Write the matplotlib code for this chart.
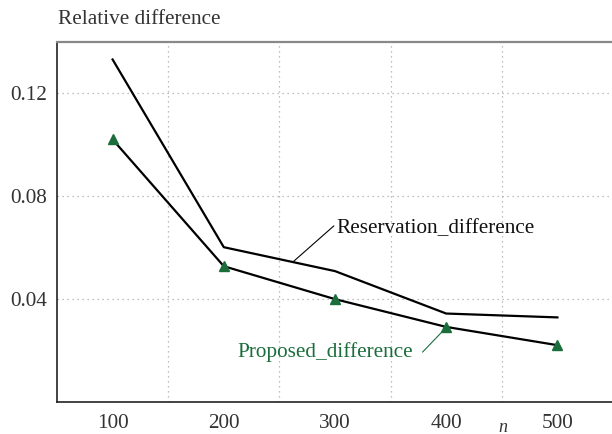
import matplotlib
matplotlib.use("Agg")
import matplotlib.pyplot as plt

n_values = [100, 200, 300, 400, 500]
reservation = [0.1332, 0.0602, 0.0509, 0.0344, 0.0329]
proposed = [0.1021, 0.0528, 0.0400, 0.0292, 0.0221]
yticks = [0.04, 0.08, 0.12]
ytick_labels = ["0.04", "0.08", "0.12"]

plt.rcParams['font.family'] = ['Liberation Serif', 'DejaVu Serif']
green = "#1b6e3c"
textc = "#333333"
fs = 15.3

fig = plt.figure(figsize=(6.12, 4.34), dpi=100)
ax = fig.add_axes([57/612, 32/434, 556/612, 360/434])
ax.set_xlim(50, 550)
ax.set_ylim(0, 0.14)

ax.plot(n_values, reservation, color="black", lw=1.6, zorder=3)
ax.plot(n_values, proposed, color="black", lw=1.6, zorder=3)
ax.plot(n_values, proposed, ls="none", marker="^", ms=6.5, color=green, zorder=4)

ax.set_xticks(n_values)
ax.set_xticklabels([str(v) for v in n_values])
ax.set_yticks(yticks)
ax.set_yticklabels(ytick_labels)
ax.set_xticks([150, 250, 350, 450], minor=True)
ax.tick_params(axis="both", which="both", length=0, labelsize=fs, colors=textc)
ax.tick_params(axis="x", pad=9)
ax.tick_params(axis="y", pad=7)
ax.grid(False)
ax.yaxis.grid(True, which="major", ls=(0, (1, 3)), color="#aaaaaa", lw=0.9)
ax.xaxis.grid(True, which="minor", ls=(0, (1, 3)), color="#aaaaaa", lw=0.9)

for s in ["left", "bottom"]:
    ax.spines[s].set_color("#222222")
    ax.spines[s].set_linewidth(1.2)
ax.spines["top"].set_color("#888888")
ax.spines["top"].set_linewidth(1.6)
ax.spines["right"].set_visible(False)

fig.text(58/612, 1 - 20/434, "Relative difference", fontsize=fs, color=textc, va="center", ha="left")
fig.text(503/612, 1 - 427/434, "n", fontsize=13, style="italic", color=textc, va="center", ha="center")

ax.text(301, 0.0676, "Reservation_difference", fontsize=fs, color="#111111", va="center", ha="left")
ax.annotate("", xy=(262, 0.0544), xytext=(299, 0.0685),
            arrowprops=dict(arrowstyle="-", color="black", lw=0.8, shrinkA=0, shrinkB=0))
ax.text(370, 0.0194, "Proposed_difference", fontsize=fs, color=green, va="center", ha="right")
ax.annotate("", xy=(400.3, 0.0291), xytext=(378.7, 0.0194),
            arrowprops=dict(arrowstyle="-", color=green, lw=0.8, shrinkA=0, shrinkB=0))

fig.savefig("out.png", dpi=100)
